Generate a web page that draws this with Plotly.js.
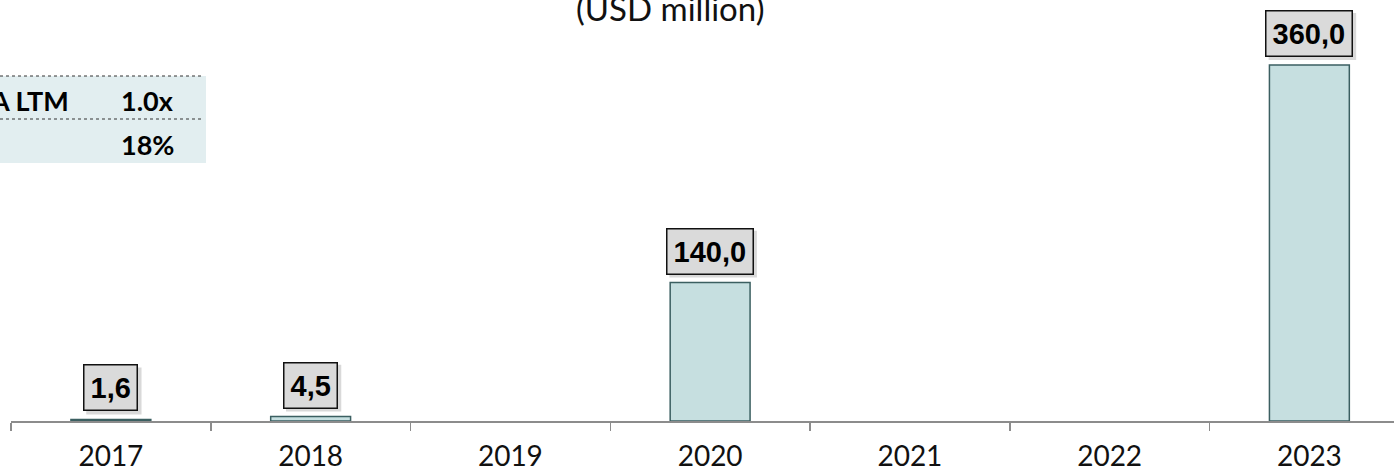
<!DOCTYPE html>
<html><head><meta charset="utf-8">
<script src="https://cdn.plot.ly/plotly-3.0.1.min.js"></script>
<style>html,body{margin:0;padding:0;background:#fff;}#chart{width:1394px;height:473px;}</style>
</head><body><div id="chart"></div>
<script>
const years = ['2017','2018','2019','2020','2021','2022','2023'];
const values = [1.6, 4.5, null, 140.0, null, null, 360.0];
const titleText = '(USD million)';
const tableLabels = ['A LTM', ''];
const tableValues = ['1.0x', '18%'];

const W = 1394, H = 473, ML = 11, MB = 52;
const PW = W - ML, PH = H - MB;
const px2x = p => (p - ML) / PW;
const py2y = p => (PH - p) / PH;

const fmt = v => v.toFixed(1).replace('.', ',');
const LBL = 29, PAD = 6, BW = 1.5, GAP = 8;

const trace = {
  type: 'bar', x: years, y: values, width: 0.4,
  marker: {color: '#c6dfe0', line: {color: '#3b5f61', width: 1.5}},
  hoverinfo: 'skip'
};

const annotations = [];
const shapes = [];
years.forEach((yr, i) => {
  const v = values[i];
  if (v === null) return;
  const t = fmt(v);
  const digits = t.replace(/[^0-9]/g, '').length;
  const tw = LBL * (0.556 * digits + 0.278 * (t.length - digits));
  const bw = tw + 2 * PAD + 2 * BW;
  const bh = LBL * 1.1 + 2 * PAD + 2 * BW;
  shapes.push({
    type: 'rect', xref: 'x', yref: 'y', xsizemode: 'pixel', ysizemode: 'pixel',
    xanchor: i, yanchor: v,
    x0: -bw / 2 + 3, x1: bw / 2 + 3, y0: GAP - 3, y1: GAP - 3 + bh,
    fillcolor: 'rgba(0,0,0,0.15)', line: {width: 0}, layer: 'above'
  });
  annotations.push({
    x: i, y: v, xref: 'x', yref: 'y', text: '<b>' + t + '</b>', showarrow: false,
    yanchor: 'bottom', yshift: GAP,
    font: {family: 'Liberation Sans, Arial', size: LBL, color: '#000'},
    bgcolor: '#dadada', bordercolor: '#111', borderwidth: BW, borderpad: PAD
  });
});

annotations.push({
  xref: 'paper', yref: 'paper', x: px2x(670), y: 1, yanchor: 'bottom', yshift: -30,
  text: titleText, showarrow: false,
  font: {family: 'Lato, DejaVu Sans', size: 33, color: '#111'}
});

const rowY = [100, 144];
tableLabels.forEach((lab, i) => {
  if (lab) annotations.push({
    xref: 'paper', yref: 'paper', x: px2x(71), y: py2y(rowY[i]), xanchor: 'right', yanchor: 'middle',
    text: '<b>' + lab + '</b>', showarrow: false,
    font: {family: 'Lato, DejaVu Sans', size: 27, color: '#000'}
  });
  annotations.push({
    xref: 'paper', yref: 'paper', x: px2x(176), y: py2y(rowY[i]), xanchor: 'right', yanchor: 'middle',
    text: '<b>' + tableValues[i] + '</b>', showarrow: false,
    font: {family: 'Lato, DejaVu Sans', size: 27, color: '#000'}
  });
});

shapes.push(
  {type: 'rect', xref: 'paper', yref: 'paper', x0: px2x(0), x1: px2x(206), y0: py2y(163), y1: py2y(76),
   fillcolor: '#e2eef0', line: {width: 0}, layer: 'below'},
  {type: 'line', xref: 'paper', yref: 'paper', x0: px2x(0), x1: px2x(203), y0: py2y(76), y1: py2y(76),
   line: {color: '#333', width: 1, dash: 'dot'}},
  {type: 'line', xref: 'paper', yref: 'paper', x0: px2x(0), x1: px2x(203), y0: py2y(119), y1: py2y(119),
   line: {color: '#333', width: 1, dash: 'dot'}}
);

const layout = {
  width: W, height: H,
  margin: {l: ML, r: 0, t: 0, b: MB, pad: 0},
  paper_bgcolor: '#fff', plot_bgcolor: 'rgba(0,0,0,0)',
  showlegend: false,
  xaxis: {
    type: 'category', range: [-0.5, -0.5 + PW / 199.75],
    showline: true, linecolor: '#8c8c8c', linewidth: 1.5,
    ticks: 'outside', tickson: 'boundaries', ticklen: 8, tickcolor: '#8c8c8c', tickwidth: 1.5,
    showgrid: false, zeroline: false, ticklabelstandoff: 10,
    tickfont: {family: 'Lato, DejaVu Sans', size: 28, color: '#111'}
  },
  yaxis: {
    range: [0, PH / 0.989], showticklabels: false, showline: false, ticks: '',
    showgrid: false, zeroline: false, fixedrange: true
  },
  annotations: annotations, shapes: shapes
};

Plotly.newPlot('chart', [trace], layout, {displayModeBar: false, staticPlot: true});
</script></body></html>
